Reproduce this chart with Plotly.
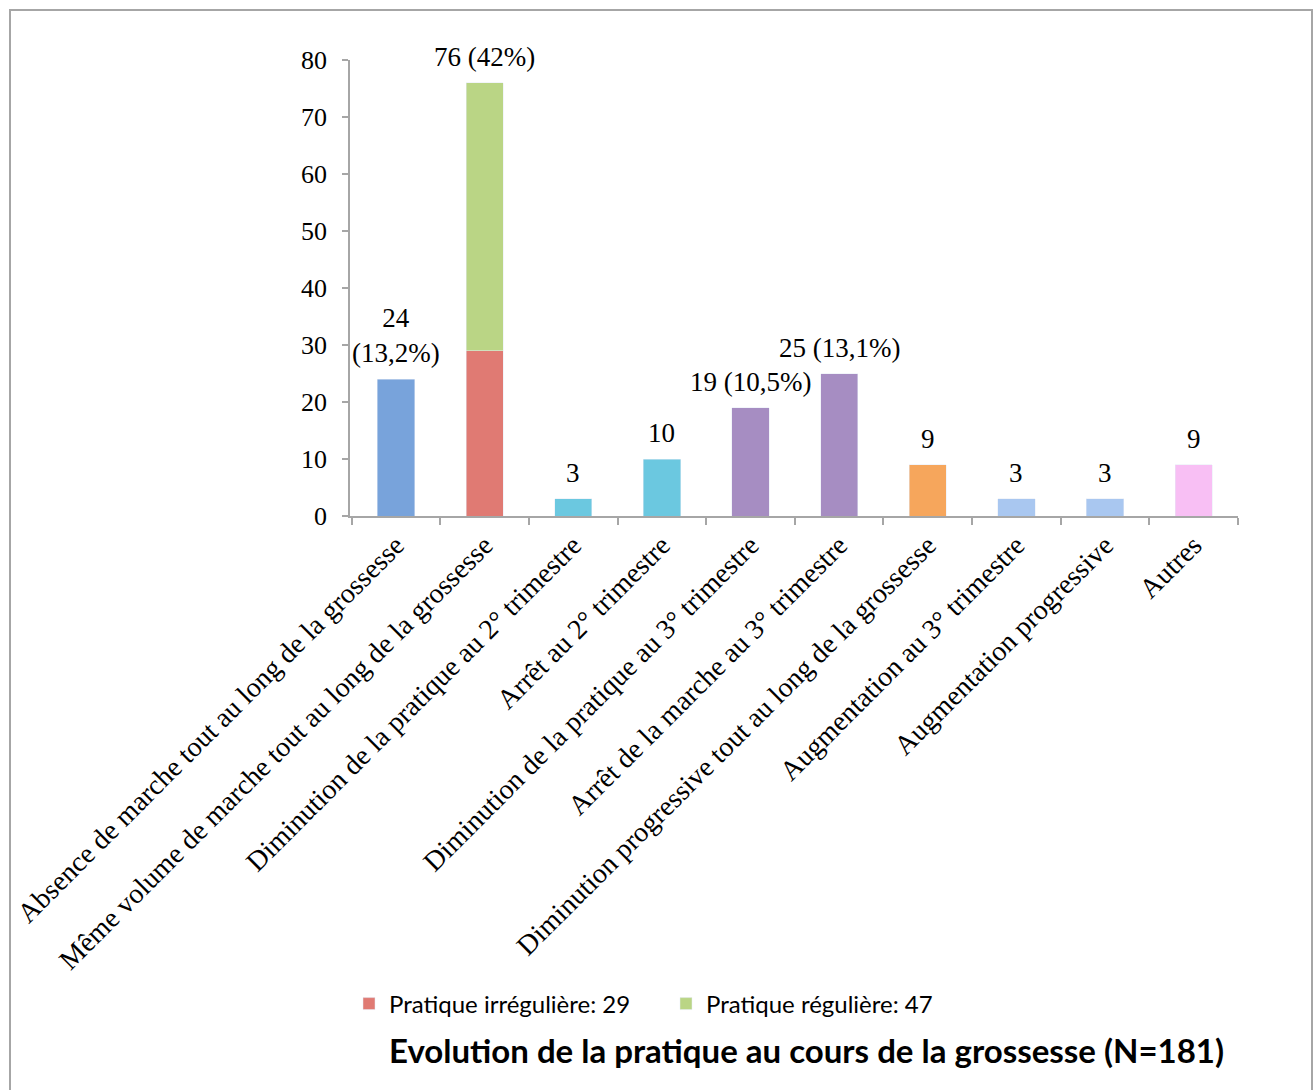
import plotly.graph_objects as go

categories = [
    "Absence de marche tout au long de la grossesse",
    "Même volume de marche tout au long de la grossesse",
    "Diminution de la pratique au 2° trimestre",
    "Arrêt au 2° trimestre",
    "Diminution de la pratique au 3° trimestre",
    "Arrêt de la marche au 3° trimestre",
    "Diminution progressive tout au long de la grossesse",
    "Augmentation au 3° trimestre",
    "Augmentation progressive",
    "Autres",
]
main_values = [24, None, 3, 10, 19, 25, 9, 3, 3, 9]
irregular_values = [None, 29, None, None, None, None, None, None, None, None]
regular_values = [None, 47, None, None, None, None, None, None, None, None]
totals = [24, 76, 3, 10, 19, 25, 9, 3, 3, 9]
value_labels = ["24<br>(13,2%)", "76 (42%)", "3", "10", "19 (10,5%)", "25 (13,1%)",
                "9", "3", "3", "9"]
main_colors = ["#78A3DB", "#78A3DB", "#6BC8E0", "#6BC8E0", "#A68DC2", "#A68DC2",
               "#F6A65C", "#A9C7F0", "#A9C7F0", "#F8BFF4"]
legend_names = ["Pratique irrégulière: 29", "Pratique régulière: 47"]
title_text = "Evolution de la pratique au cours de la grossesse (N=181)"

SERIF = "Liberation Serif"
SANS = "Lato"

W, H = 1316, 1090
L, R, T, B = 350, 78, 60, 574
pw, ph = W - L - R, H - T - B

fig = go.Figure()
fig.add_trace(go.Bar(x=categories, y=main_values, marker=dict(color=main_colors),
                     showlegend=False, width=0.42))
fig.add_trace(go.Bar(x=categories, y=irregular_values, name=legend_names[0],
                     marker=dict(color="#E07A73"), width=0.42, legend="legend"))
fig.add_trace(go.Bar(x=categories, y=regular_values, name=legend_names[1],
                     marker=dict(color="#BAD585"), width=0.42, legend="legend2"))

for cat, tot, lab in zip(categories, totals, value_labels):
    fig.add_annotation(x=cat, y=tot, text=lab, showarrow=False, xref="x", yref="y",
                       yanchor="bottom", yshift=9,
                       font=dict(family=SERIF, size=27, color="#000000"))


def px_x(p):
    return (p - L) / pw


def px_y(p):
    return (H - B - p) / ph


fig.add_shape(type="rect", xref="paper", yref="paper",
              x0=px_x(10), x1=px_x(1312), y0=px_y(1100), y1=px_y(10),
              line=dict(color="#A6A6A6", width=2), fillcolor="rgba(0,0,0,0)", layer="below")

fig.add_annotation(text="<b>" + title_text + "</b>", xref="paper", yref="paper",
                   x=px_x(806), y=px_y(1050), xanchor="center", yanchor="middle",
                   showarrow=False, font=dict(family=SANS, size=33, color="#000000"))

legend_common = dict(orientation="h", xref="paper", yref="paper",
                     yanchor="middle", font=dict(family=SANS, size=24, color="#000000"),
                     itemwidth=30, bgcolor="rgba(0,0,0,0)")

fig.update_layout(
    width=W, height=H,
    margin=dict(l=L, r=R, t=T, b=B, autoexpand=False),
    paper_bgcolor="white", plot_bgcolor="white",
    barmode="stack",
    font=dict(family=SERIF, size=27, color="#000000"),
    legend=dict(x=px_x(349), y=px_y(1004), xanchor="left", **legend_common),
    legend2=dict(x=px_x(666), y=px_y(1004), xanchor="left", **legend_common),
    xaxis=dict(showline=True, linecolor="#A6A6A6", linewidth=1.5,
               ticks="outside", ticklen=7, tickcolor="#A6A6A6", tickwidth=1.5,
               tickson="boundaries", tickangle=-45, showgrid=False,
               tickfont=dict(family=SERIF, size=28)),
    yaxis=dict(range=[0, 80], dtick=10, showline=True, linecolor="#A6A6A6", linewidth=1.5,
               ticks="outside", ticklen=6, tickcolor="#A6A6A6", tickwidth=1.5,
               showgrid=False, zeroline=False, ticklabelstandoff=10,
               tickfont=dict(family=SERIF, size=26)),
)

fig.write_html("out.html", config={"displayModeBar": False},
               post_script="document.body.style.margin='0px';")
